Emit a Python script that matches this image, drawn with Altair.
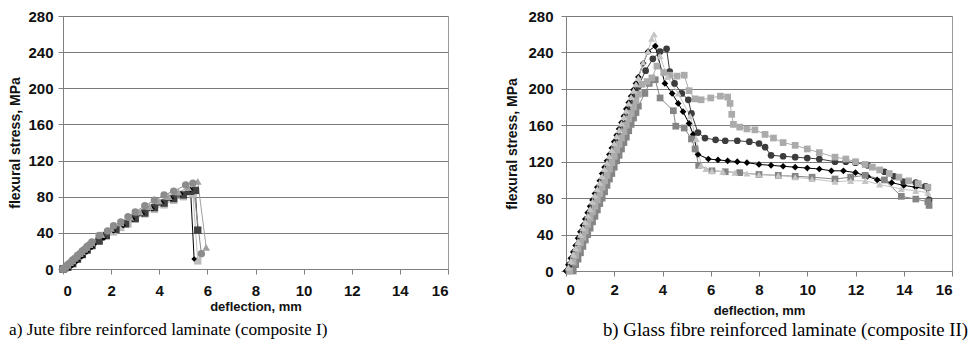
import altair as alt
import pandas as pd

# ---------------- a) Jute fibre reinforced laminate (composite I) ----------------
ju_lsq_x = [0, 0.2, 0.4, 0.6, 0.8, 1.0, 1.2, 1.5, 1.8, 2.1, 2.4, 2.7, 3.0, 3.4, 3.8, 4.2, 4.6, 5.0, 5.4, 5.6]
ju_lsq_y = [0, 3, 7, 12, 17, 22, 26, 31, 37, 41, 46, 50, 55, 61, 66, 71, 76, 80, 83, 9]

ju_dsq_x = [0, 0.2, 0.4, 0.6, 0.8, 1.0, 1.2, 1.5, 1.8, 2.2, 2.6, 3.0, 3.4, 3.8, 4.2, 4.6, 5.0, 5.3, 5.5, 5.6]
ju_dsq_y = [0, 2, 6, 11, 16, 21, 26, 31, 37, 44, 50, 56, 62, 68, 73, 78, 82, 86, 87, 43]

ju_dia_x = [0, 0.2, 0.3, 0.4, 0.5, 0.6, 0.7, 0.8, 0.9, 1.0, 1.1, 1.2, 1.3,
            1.7, 2.1, 2.5, 2.9, 3.3, 3.7, 4.1, 4.5, 4.9, 5.3, 5.45]
ju_dia_y = [0, 0, 2, 4, 7, 9, 12, 14, 17, 19, 22, 24, 27,
            34, 42, 48, 55, 61, 67, 73, 78, 83, 88, 11]

ju_tri_x = [0, 0.1, 0.2, 0.3, 0.4, 0.5, 0.6, 0.7, 0.8, 0.9, 1.0, 1.1, 1.2,
            1.6, 2.0, 2.4, 2.8, 3.2, 3.6, 4.0, 4.4, 4.8, 5.2, 5.6, 5.95]
ju_tri_y = [0, 2, 4, 7, 9, 12, 14, 17, 19, 22, 24, 27, 29,
            38, 45, 51, 57, 63, 69, 75, 80, 85, 90, 97, 24]

ju_cir_x = [0, 0.1, 0.2, 0.3, 0.4, 0.5, 0.6, 0.7, 0.8, 0.9, 1.0, 1.1, 1.2,
            1.5, 1.85, 2.1, 2.4, 2.7, 3.0, 3.4, 3.8, 4.2, 4.6, 5.1, 5.4, 5.75]
ju_cir_y = [0, 2, 5, 7, 10, 12, 15, 17, 20, 22, 25, 27, 30,
            37, 42, 48, 52, 58, 63, 70, 76, 82, 86, 93, 95, 17]

# ---------------- b) Glass fibre reinforced laminate (composite II) ----------------
gl_dsq_x = [0.3, 0.4, 0.5, 0.6, 0.7, 0.8, 0.9, 1.0, 1.1, 1.2, 1.3, 1.4, 1.5, 1.6, 1.7, 1.8, 1.9,
            2.0, 2.1, 2.2, 2.3, 2.4, 2.5, 2.6, 2.7, 2.8, 2.9, 3.0,
            3.27, 3.45, 3.7, 3.9, 4.45, 4.55, 4.9, 5.2, 5.35, 5.5, 6.05, 6.6, 7.2, 8.0, 8.8,
            9.5, 10.2, 11.15, 11.8, 12.4, 13.2, 13.9, 14.5, 15.0, 15.05]
gl_dsq_y = [0, 7, 13, 20, 27, 34, 40, 47, 54, 60, 67, 74, 80, 87, 94, 101, 107,
            114, 121, 127, 134, 141, 147, 154, 161, 168, 174, 181,
            195, 206, 210, 190, 176, 159, 157, 145, 134, 116, 110, 109, 108, 106, 105,
            104, 103, 101, 103, 105, 100, 82, 79, 76, 72]

gl_lsq_x = [0.15, 0.3, 0.4, 0.5, 0.6, 0.7, 0.8, 0.9, 1.0, 1.1, 1.2, 1.3, 1.4, 1.5, 1.6, 1.7, 1.8,
            1.9, 2.0, 2.1, 2.2, 2.3, 2.4, 2.5, 2.6, 2.7, 2.8, 2.9, 3.0,
            3.15, 3.36, 3.56, 3.77, 4.05, 4.3, 4.6, 4.9, 5.1, 5.35, 5.6, 6.0, 6.4, 6.7, 6.8,
            6.87, 6.94, 7.2, 7.5, 7.83, 8.25, 8.6, 9.0, 9.5, 10.0, 10.5, 11.15, 11.6, 12.0,
            12.4, 12.7, 13.0, 13.4, 13.8, 14.2, 14.6, 15.0]
gl_lsq_y = [0, 10, 17, 24, 31, 37, 44, 51, 58, 65, 71, 78, 85, 92, 99, 105, 112,
            119, 126, 133, 139, 146, 153, 160, 167, 173, 180, 187, 194,
            205, 208, 212, 225, 218, 215, 214, 215, 198, 189, 188, 190, 192, 191, 184,
            172, 161, 158, 156, 155, 150, 146, 141, 138, 134, 130, 125, 123, 120,
            117, 114, 111, 107, 103, 99, 96, 92]

gl_cir_x = [0.1, 0.2, 0.3, 0.4, 0.5, 0.6, 0.7, 0.8, 0.9, 1.0, 1.1, 1.2, 1.3, 1.4, 1.5, 1.6,
            1.7, 1.8, 1.9, 2.0, 2.1, 2.2, 2.3, 2.4, 2.5, 2.6, 2.7, 2.8, 2.9, 3.0,
            3.3, 3.6, 3.9, 4.17, 4.3, 4.5, 4.8, 5.07, 5.2, 5.47, 5.76, 6.2, 6.6, 7.1, 7.6,
            8.0, 8.25, 8.5, 9.0, 9.5, 10.0, 10.5, 11.15, 11.6, 12.0, 12.5, 13.2, 13.6, 14.0,
            14.5, 14.9, 15.05]
gl_cir_y = [0, 7, 14, 21, 28, 35, 42, 49, 56, 63, 70, 77, 84, 91, 98, 105,
            112, 119, 126, 133, 140, 147, 154, 161, 168, 175, 182, 189, 196, 203,
            220, 233, 241, 244, 219, 206, 195, 188, 173, 152, 146, 144, 143, 143, 142,
            140, 136, 127, 126, 125, 124, 123, 120, 120, 119, 116, 109, 104, 98,
            97, 93, 78]

gl_tri_x = [0.1, 0.2, 0.3, 0.4, 0.5, 0.6, 0.7, 0.8, 0.9, 1.0, 1.1, 1.2, 1.3, 1.4, 1.5, 1.6,
            1.7, 1.8, 1.9, 2.0, 2.1, 2.2, 2.3, 2.4, 2.5, 2.6, 2.7, 2.8, 2.9, 3.0,
            3.2, 3.4, 3.55, 3.65, 3.9, 4.2, 4.65, 5.15, 5.4, 5.6, 5.8, 6.05, 6.5, 7.0, 7.5,
            8.0, 8.8, 9.5, 10.2, 11.15, 11.8, 12.4, 13.0, 13.9, 14.5, 15.0]
gl_tri_y = [4, 11, 18, 25, 32, 40, 47, 54, 61, 68, 76, 83, 90, 97, 104, 112,
            119, 126, 133, 140, 148, 155, 162, 169, 176, 184, 191, 198, 205, 212,
            229, 241, 255, 260, 236, 213, 195, 170, 145, 116, 112, 110, 109, 108, 107,
            106, 105, 103, 101, 98, 99, 99, 95, 90, 88, 86]

gl_dia_x = [0.0, 0.1, 0.2, 0.3, 0.4, 0.5, 0.6, 0.7, 0.8, 0.9, 1.0, 1.1, 1.2, 1.3, 1.4, 1.5,
            1.6, 1.7, 1.8, 1.9, 2.0, 2.1, 2.2, 2.3, 2.4, 2.5, 2.6, 2.7, 2.8, 2.9, 3.0,
            3.2, 3.4, 3.7, 4.1, 4.4, 4.65, 4.85, 5.1, 5.27, 5.47, 5.9, 6.3, 6.7, 7.1, 7.5,
            8.0, 8.5, 9.0, 9.5, 10.0, 10.5, 11.0, 11.5, 12.0, 12.5, 12.9, 13.5, 14.0, 14.5, 15.0]
gl_dia_y = [0, 7, 14, 21, 28, 36, 43, 50, 57, 64, 71, 78, 85, 92, 99, 107,
            114, 121, 128, 135, 142, 149, 156, 163, 170, 178, 185, 192, 199, 206, 213,
            228, 241, 247, 206, 195, 184, 175, 162, 150, 128, 123, 122, 121, 120, 119,
            117, 116, 115, 114, 113, 112, 110, 110, 108, 104, 100, 97, 94, 92, 90]

x_ticks = [0, 2, 4, 6, 8, 10, 12, 14, 16]
y_ticks = [0, 40, 80, 120, 160, 200, 240, 280]
x_title = "deflection, mm"
y_title = "flexural stress, MPa"
caption_a = "a) Jute fibre reinforced laminate (composite I)"
caption_b = "b) Glass fibre reinforced laminate (composite II)"

FONT = "Liberation Sans"


def series(name, xs, ys, color, shape, size, z):
    return pd.DataFrame({"series": name, "x": xs, "y": ys, "i": list(range(len(xs))),
                         "c": color, "shp": shape, "sz": size, "z": z})


jute = pd.concat([
    series("lsq", ju_lsq_x, ju_lsq_y, "#bdbdbd", "square", 55, 0),
    series("dsq", ju_dsq_x, ju_dsq_y, "#404040", "square", 55, 1),
    series("dia", ju_dia_x, ju_dia_y, "#000000", "diamond", 30, 2),
    series("tri", ju_tri_x, ju_tri_y, "#a0a0a0", "triangle-up", 60, 3),
    series("cir", ju_cir_x, ju_cir_y, "#8c8c8c", "circle", 55, 4),
], ignore_index=True)

glass = pd.concat([
    series("dia", gl_dia_x, gl_dia_y, "#000000", "diamond", 45, 0),
    series("cir", gl_cir_x, gl_cir_y, "#3c3c3c", "circle", 45, 1),
    series("dsq", gl_dsq_x, gl_dsq_y, "#858585", "square", 45, 2),
    series("lsq", gl_lsq_x, gl_lsq_y, "#ababab", "square", 45, 3),
    series("tri", gl_tri_x, gl_tri_y, "#c4c4c4", "triangle-up", 50, 4),
], ignore_index=True)


def panel(df, w, h, xlab_pad, xtitle_pad, ylab_pad, ytitle_pad, caption, cap_size, cap_dx, cap_offset):
    x = alt.X("x:Q", scale=alt.Scale(domain=[0, 16], nice=False),
              axis=alt.Axis(values=x_ticks, title=x_title, grid=False, labelPadding=xlab_pad,
                            titlePadding=xtitle_pad, titleFontSize=13))
    y = alt.Y("y:Q", scale=alt.Scale(domain=[0, 280], nice=False),
              axis=alt.Axis(values=y_ticks, title=y_title, grid=True, labelPadding=ylab_pad,
                            titlePadding=ytitle_pad, titleFontSize=14))
    lines = alt.Chart(df).mark_line(strokeWidth=1).encode(
        x=x, y=y, color=alt.Color("c:N", scale=None), detail="series:N", order="i:Q")
    pts = alt.Chart(df).mark_point(filled=True, opacity=1, strokeWidth=0).encode(
        x=x, y=y,
        color=alt.Color("c:N", scale=None),
        shape=alt.Shape("shp:N", scale=None),
        size=alt.Size("sz:Q", scale=None),
        order="z:Q")
    return alt.layer(lines, pts).properties(
        width=w, height=h,
        title=alt.TitleParams(caption, orient="bottom", anchor="start", frame="bounds",
                              font="Liberation Serif", fontSize=cap_size, fontWeight="normal",
                              color="#000000", dx=cap_dx, offset=cap_offset))


left = panel(jute, 385, 253, 9.5, 2, 5, 5, caption_a, 17.3, 0, 7)
right = panel(glass, 386, 255, 6.5, 7, 8, 8, caption_b, 18.8, 97, 3)

chart = alt.hconcat(left, right, spacing=56).properties(
    padding={"left": 0, "top": 0, "right": 0, "bottom": 0}
).configure_view(stroke="#9a9a9a", strokeWidth=1).configure_axis(
    labelFont=FONT, labelFontSize=15, labelFontWeight="bold", labelColor="#111111",
    titleFont=FONT, titleFontWeight="bold", titleColor="#111111",
    domainColor="#808080", tickColor="#808080", tickSize=5,
    gridColor="#7a7a7a", gridWidth=1, gridOpacity=1
).configure_concat(spacing=56)

chart.save("out.html", embed_options={"renderer": "svg", "actions": False})
